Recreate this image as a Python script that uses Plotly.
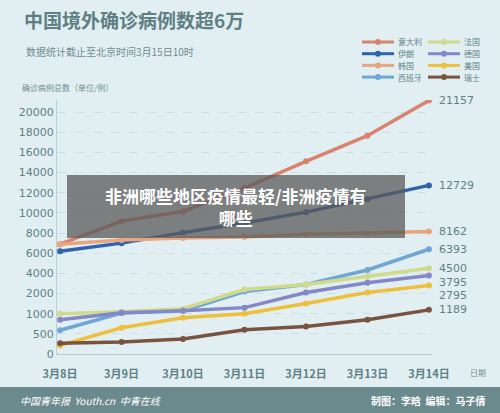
import plotly.graph_objects as go

dates = ["3月8日","3月9日","3月10日","3月11日","3月12日","3月13日","3月14日"]
names = ["意大利","伊朗","韩国","西班牙","法国","德国","美国","瑞士"]
italy = [6900, 9172, 10149, 12462, 15113, 17660, 21157]
iran = [6200, 7000, 8042, 9000, 10075, 11364, 12729]
korea = [6900, 7300, 7513, 7600, 7869, 7979, 8162]
spain = [589, 1030, 1150, 2200, 2900, 4334, 6393]
france = [1000, 1100, 1250, 2400, 2900, 3661, 4500]
germany = [850, 1050, 1150, 1300, 2100, 3062, 3795]
usa = [213, 650, 900, 1000, 1500, 2100, 2795]
swiss = [268, 300, 374, 600, 680, 850, 1189]
end_labels = ["21157","12729","8162","6393","4500","3795","2795","1189"]
tick_vals = [0,500,1000,2000,4000,6000,8000,10000,12000,14000,16000,18000,20000]
tick_text = [str(v) for v in tick_vals]
colors = ["#d9826f","#2f63ad","#e9a57f","#6fa6d4","#cfdb8a","#8487c8","#eebf3a","#7a5340"]
label_shift = [0, 0, 0, 0, 0, -7, -10, 0]

def pos(v):
    if v <= 1000: return v/500
    if v <= 2000: return 2 + (v-1000)/1000
    return 3 + (v-2000)/2000

L, R, T, B = 57, 68, 100, 59
PW, PH = 500-L-R, 413-T-B
def px(x): return (x-L)/PW
def py(y): return (413-B-y)/PH

series = [italy, iran, korea, spain, france, germany, usa, swiss]
fig = go.Figure()
for i, s in enumerate(series):
    fig.add_trace(go.Scatter(x=dates, y=[pos(v) for v in s], name=names[i], mode="lines+markers",
        line=dict(color=colors[i], width=3.5), marker=dict(size=6, color=colors[i]), showlegend=False))
    fig.add_annotation(x=dates[-1], y=pos(s[-1]), text=end_labels[i], xanchor="left", xshift=8,
        yshift=label_shift[i], showarrow=False, font=dict(size=11, color="#5e7f86", family="DejaVu Sans"))

def note(x, y, text, size, color, xa="left", **kw):
    fig.add_annotation(xref="paper", yref="paper", x=px(x), y=py(y), text=text, xanchor=xa, yanchor="middle",
        showarrow=False, font=dict(size=size, color=color), **kw)

leg_order = [(0, 0, 0), (4, 1, 0), (1, 0, 1), (5, 1, 1), (2, 0, 2), (6, 1, 2), (3, 0, 3), (7, 1, 3)]
for idx, col, row in leg_order:
    x0 = 362 + col*66
    y = 42 + row*11.7
    fig.add_shape(type="line", xref="paper", yref="paper", x0=px(x0), x1=px(x0+32), y0=py(y), y1=py(y),
        line=dict(color=colors[idx], width=3))
    fig.add_shape(type="circle", xref="paper", yref="paper", x0=px(x0+13), x1=px(x0+19), y0=py(y+3), y1=py(y-3),
        fillcolor=colors[idx], line_width=0)
    note(x0+34, y, names[idx], 8, "#5e7f86")

fig.update_layout(
    width=500, height=413, margin=dict(l=L, r=R, t=T, b=B),
    paper_bgcolor="#e2eff2", plot_bgcolor="rgba(0,0,0,0)",
    font=dict(family="Noto Sans CJK SC", color="#5e7f86"), showlegend=False,
)
fig.update_xaxes(showgrid=False, showline=True, linecolor="#b8cfd3", ticklabelstandoff=10,
    tickfont=dict(size=11, color="#5e7f86", family="Noto Sans CJK SC", weight="bold"), ticks="", range=[-0.05, 6.05])
fig.update_yaxes(tickvals=[pos(v) for v in tick_vals], ticktext=tick_text, range=[0, 12.6],
    showgrid=True, gridcolor="#cfe0e4", griddash="dash", showline=True, linecolor="#b8cfd3",
    tickfont=dict(size=11, color="#5e7f86", family="DejaVu Sans"), zeroline=False)

note(22, 20, "<b>中国境外确诊病例数超6万</b>", 19, "#5f7f84")
note(24, 52, "数据统计截止至北京时间3月15日10时", 10, "#6f8b90")
note(20, 87, "确诊病例总数（单位/例）", 8, "#6f8b90")
note(468, 372, "日期", 8, "#6f8b90")
fig.add_shape(type="rect", xref="paper", yref="paper", x0=px(0), x1=px(500), y0=py(413), y1=py(387),
    fillcolor="#6b8a8e", line_width=0, layer="above")
note(18, 400, "<i>中国青年报  Youth.cn  中青在线</i>", 10, "white")
note(488, 400, "<b>制图：李晗  编辑：马子倩</b>", 10, "white", xa="right")
fig.add_shape(type="rect", xref="paper", yref="paper", x0=px(67), x1=px(405), y0=py(238), y1=py(175),
    fillcolor="rgba(90,90,90,0.75)", line_width=0, layer="above")
note(236, 206, "<b>非洲哪些地区疫情最轻/非洲疫情有<br>哪些</b>", 17, "white", xa="center", align="center")
fig.write_html("out.html", config={"displayModeBar": False}, post_script="document.body.style.margin='0';")
